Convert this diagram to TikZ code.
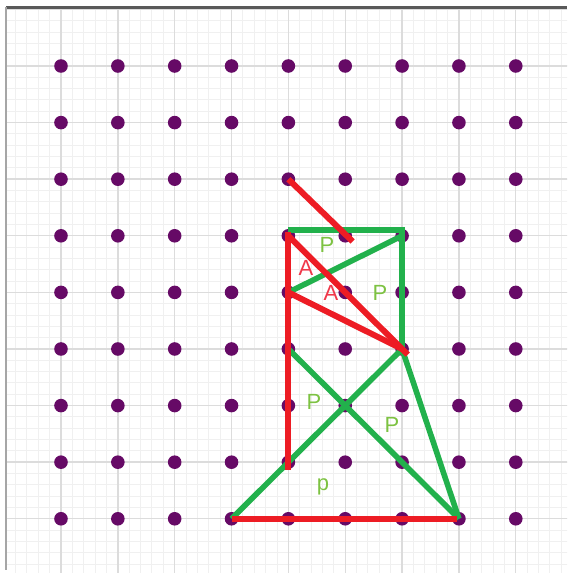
\documentclass[tikz,border=0pt]{standalone}
\usepackage{fontspec}
\setmainfont{Liberation Sans}
\begin{document}
\begin{tikzpicture}[x=1cm,y=0.9956cm]

\definecolor{dcolor}{HTML}{660A66}
\definecolor{rcolor}{HTML}{ED1C24}
\definecolor{gcolor}{HTML}{22B14C}
\definecolor{ptext}{HTML}{7DC242}
\definecolor{atext}{HTML}{F0384A}
\definecolor{majcolor}{HTML}{DCDCDC}
\definecolor{mincolor}{HTML}{F0F0F0}

\tikzstyle{dot}=[circle, fill=dcolor, inner sep=0pt, minimum size=6.8pt]
\tikzstyle{rline}=[line width=3pt, color=rcolor]
\tikzstyle{gline}=[line width=2.8pt, color=gcolor]
\tikzstyle{plabel}=[color=ptext, inner sep=0pt, font=\fontsize{11}{13}\selectfont]
\tikzstyle{alabel}=[color=atext, inner sep=0pt, font=\fontsize{11}{13}\selectfont]
\tikzstyle{minorgrid}=[color=mincolor, line width=0.5pt]
\tikzstyle{majorgrid}=[color=majcolor, line width=0.7pt]
\tikzstyle{topframe}=[line width=1.5pt, color=black!65]
\tikzstyle{leftframe}=[line width=0.9pt, color=black!35]

\useasboundingbox (-0.073,-9.958) rectangle (9.901,0.166);

% grid
\begin{scope}
    \clip (0.033,-9.958) rectangle (9.901,0.042);
    \draw[minorgrid, step=0.2] (0,-10) grid (10,0.2);
    \draw[majorgrid, step=1] (0,-10) grid (10,0.2);
\end{scope}
\draw[topframe] (0.033,0.042) -- (9.901,0.042);
\draw[leftframe] (0.033,0.042) -- (0.033,-9.905);

% dots
\foreach \i in {1,...,9} {
    \foreach \j in {1,...,9} {
        \node[dot] (d\i\j) at (\i,-\j) {};
    };
};

\coordinate (rtip) at (6.13,-4.10);
\coordinate (rfoot) at (5,-8.13);

% green lines
\draw[gline, line join=miter] ([yshift=3pt]d54.center) -- ([yshift=3pt]d74.center) -- ([yshift=-1pt]d76.center);
\draw[gline] (d55.center) -- (d74.center);
\draw[gline] (d56.center) -- (d89.center);
\draw[gline] (d49.center) -- (d76.center);
\draw[gline] (d76.center) -- (d89.center);

% red lines
\draw[rline] (d53.center) -- (rtip);
\draw[rline] ([yshift=2pt]d54.center) -- (rfoot);
\draw[rline, shorten >=-4pt] (d54.center) -- (d76.center);
\draw[rline] (d55.center) -- (d76.center);
\draw[rline] (d49.center) -- ([xshift=-1pt]d89.center);

% labels
\node[plabel] (p1) at (5.68,-4.16) {P};
\node[alabel] (a1) at (5.31,-4.57) {A};
\node[alabel] (a2) at (5.75,-5.01) {A};
\node[plabel] (p2) at (6.61,-5.01) {P};
\node[plabel] (p3) at (5.45,-6.94) {P};
\node[plabel] (p4) at (6.82,-7.34) {P};
\node[plabel] (p5) at (5.61,-8.44) {p};

\end{tikzpicture}
\end{document}
